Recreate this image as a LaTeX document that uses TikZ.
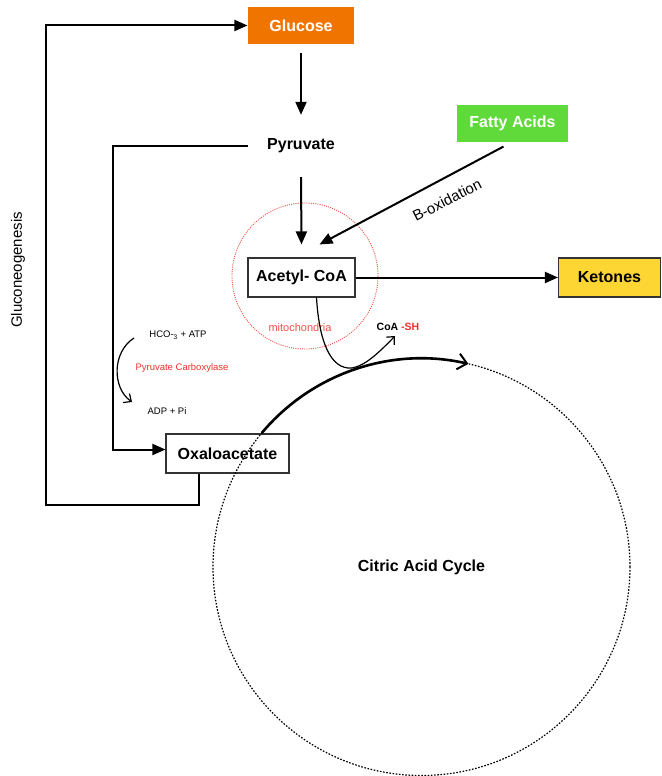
\documentclass[tikz,border=0pt]{standalone}
\usepackage{fontspec}
\setmainfont{Liberation Sans}
\usetikzlibrary{arrows.meta}
\definecolor{glucoseorange}{RGB}{240,117,0}
\definecolor{fattygreen}{RGB}{96,217,58}
\definecolor{ketoneyellow}{RGB}{253,214,52}
\definecolor{enzymered}{RGB}{236,50,40}
\definecolor{mitored}{RGB}{240,80,70}
\tikzset{%
	every box/.style={
		draw=black!80,
		line width=1.1pt,
		minimum height=39pt,
		font=\fontsize{16}{19}\selectfont\bfseries
	},
	flow/.style={
		-{Triangle[length=13pt,width=11pt]},
		line width=2pt
	},
}

\begin{document}
\begin{tikzpicture}[x=1pt,y=-1pt]
			\tikzstyle{small}=[font=\fontsize{9.5}{11}\selectfont]
			\tikzstyle{thinarrow}=[-{Straight Barb[length=6pt,width=11pt]}, line width=1.2pt]
			\useasboundingbox (0,0) rectangle (661,776);
			
			\node[every box, draw=none, fill=glucoseorange, text=white, minimum width=106pt, minimum height=37pt](glucose) at (301,25.5){Glucose};
			\node[font=\fontsize{16}{19}\selectfont\bfseries, minimum width=106pt, minimum height=62pt](pyruvate) at (301,146){Pyruvate};
			\node[every box, minimum width=107pt](acetyl) at (301.5,277.5){Acetyl- CoA};
			\node[every box, draw=none, fill=fattygreen, text=white, minimum width=111pt, minimum height=37pt](fatty) at (512.5,123.5){Fatty Acids};
			\node[every box, fill=ketoneyellow, minimum width=102pt](ketones) at (609.5,277.5){Ketones};
			\node[every box, minimum width=123pt](oxalo) at (227.5,453.5){Oxaloacetate};
			
			% mitochondria
			\node[circle, draw=mitored, dash pattern=on 1pt off 1.2pt, line width=0.9pt, minimum size=146pt, inner sep=0pt](mito) at (305,276){};
			\node[text=mitored, font=\fontsize{11}{13}\selectfont](mitolabel) at (300,328){mitochondria};
			
			% citric acid cycle
			\node[circle, draw, dash pattern=on 1.6pt off 1.6pt, line width=1.2pt, minimum size=417pt, inner sep=0pt, outer sep=0pt, font=\fontsize{16}{19}\selectfont\bfseries](tca) at (421.5,567){Citric Acid Cycle};
			\draw[line width=2.6pt, -{Straight Barb[length=9pt,width=16pt,line width=2pt]}] (tca.140) arc[start angle=140, end angle=77, radius=208.5pt];
			
			\draw[flow] ([yshift=-8pt]glucose.south) -- (pyruvate.north);
			\draw[flow] (pyruvate.south) -- ([yshift=13pt]acetyl.north);
			\draw[flow] ([xshift=-9pt,yshift=-4pt]fatty.south) -- ([xshift=18pt,yshift=13pt]acetyl.north);
			\node[rotate=27, font=\fontsize{15}{18}\selectfont](boxid) at (447,200){B-oxidation};
			\draw[flow] (acetyl.east) -- (ketones.west);
			
			% pyruvate carboxylase
			\coordinate (pbend) at (113,146);
			\draw[flow] (pyruvate.west) -- (pbend) |- ([yshift=4pt]oxalo.west);
			\node[small](hco) at (178,335){HCO-\textsubscript{3} + ATP};
			\node[small, text=enzymered](carbox) at (182,368){Pyruvate Carboxylase};
			\node[small](adp) at (167,411){ADP + Pi};
			\coordinate (cstart) at (134,338);
			\coordinate (cend) at (132,402);
			\draw[thinarrow] (cstart) .. controls (112,352) and (112,388) .. (cend);
			
			% gluconeogenesis
			\coordinate (gbend) at (46,505);
			\draw[flow] ([xshift=-28.5pt]oxalo.south) |- (gbend) |- (glucose.west);
			\node[rotate=90, font=\fontsize{15}{18}\selectfont](gluco) at (18,270){Gluconeogenesis};
			
			% acetyl-CoA into the cycle
			\node[font=\fontsize{10.5}{12}\selectfont\bfseries](coash) at (398,327){CoA \textcolor{enzymered}{-SH}};
			\coordinate (join) at (352,368);
			\coordinate (coatip) at (395,336);
			\draw[line width=1.2pt] ([xshift=15pt]acetyl.south) .. controls (319,340) and (330,370) .. (join);
			\draw[thinarrow] (join) .. controls (362,366) and (372,360) .. (coatip);
		\end{tikzpicture}
\end{document}
